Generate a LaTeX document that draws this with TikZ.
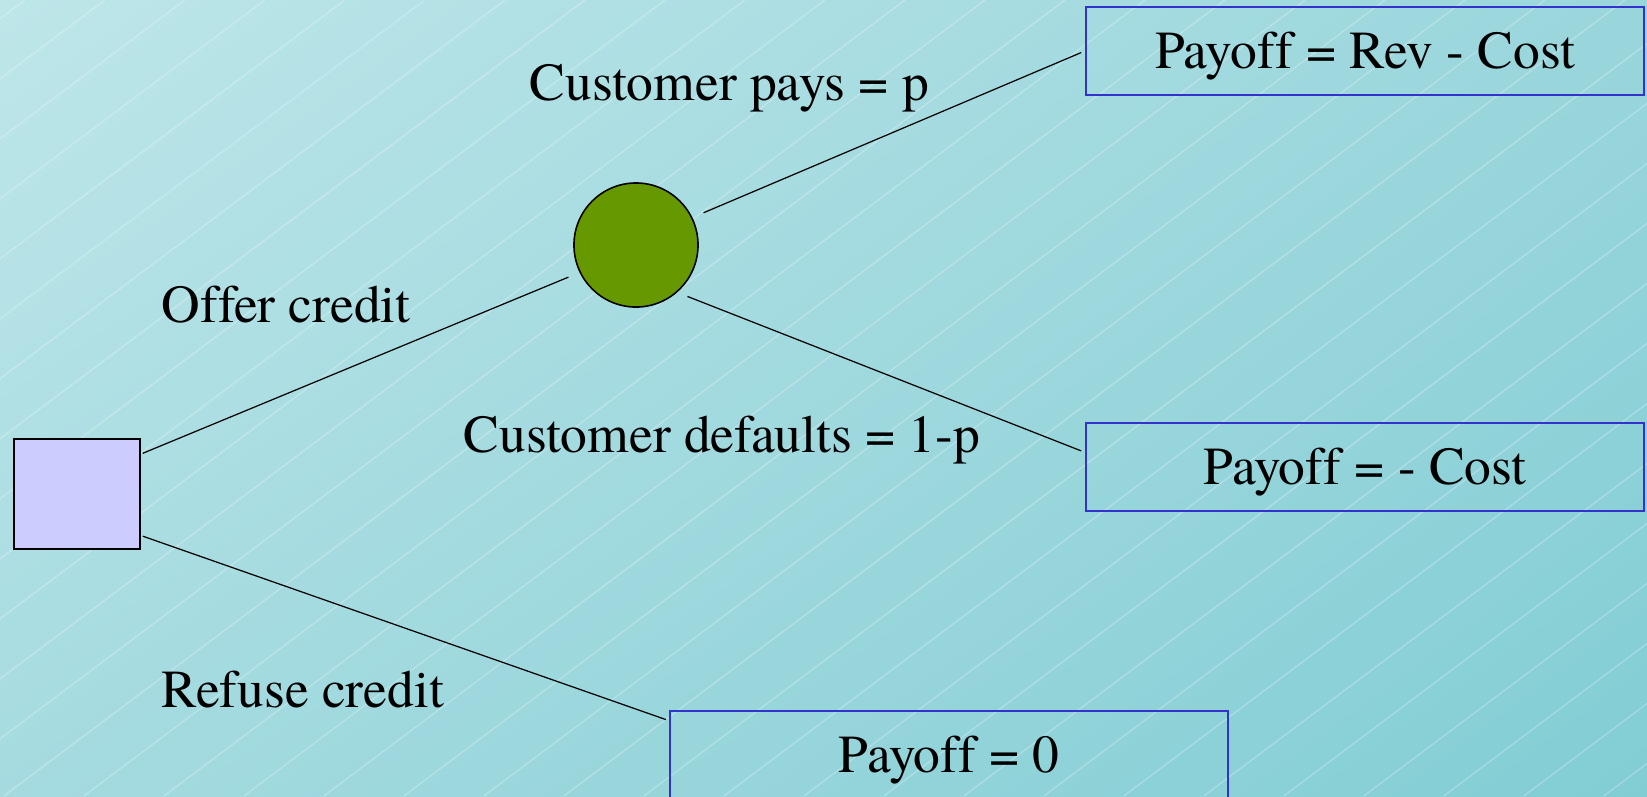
\documentclass[tikz,border=0pt]{standalone}
\usepackage{fontspec}
\setmainfont{texgyretermes}[Extension=.otf, UprightFont=*-regular, BoldFont=*-bold, ItalicFont=*-italic, BoldItalicFont=*-bolditalic, Ligatures=CommonOff]
\usetikzlibrary{shadings}
\definecolor{bgTL}{HTML}{BEE6E9}
\definecolor{bgTR}{HTML}{99D6DC}
\definecolor{bgBL}{HTML}{A5DBE0}
\definecolor{bgBR}{HTML}{82CDD4}
\definecolor{sqfill}{HTML}{CCCCFF}
\definecolor{chgreen}{HTML}{669900}
\definecolor{boxblue}{HTML}{3333CC}
\begin{document}
\begin{tikzpicture}[x=0.01cm,y=-0.01cm,
  every node/.style={font=\fontsize{15.2}{18}\selectfont, text=black},
  decision/.style={draw=black, line width=0.5pt, fill=sqfill, minimum width=1.26cm, minimum height=1.10cm, inner sep=0pt},
  chance/.style={circle, draw=black, line width=0.45pt, fill=chgreen, minimum size=1.24cm, inner sep=0pt},
  payoff/.style={draw=boxblue, line width=0.55pt, minimum width=5.58cm, minimum height=0.88cm, inner sep=0pt, text height=0.35cm, text depth=0pt},
  branch/.style={draw=black, line width=0.35pt},
  lbl/.style={anchor=base west, inner sep=0pt},
  diag/.style={draw=white, line width=0.3pt, opacity=0.3}
]
\useasboundingbox (0,0) rectangle (1647,796);
\clip (0,0) rectangle (1647,796);
\shade[upper left=bgTL, upper right=bgTR, lower left=bgBL, lower right=bgBR] (0,0) rectangle (1647,796);
\foreach \c in {25,105,...,2745} {
  \draw[diag] (\c,0) -- ++(-1061.3,796);
}
% nodes
\node[decision] (sq) at (77,494) {};
\node[chance] (ch) at (636,245) {};
\node[payoff] (p1) at (1365,51) {Payoff = Rev - Cost};
\node[payoff] (p2) at (1365,467) {Payoff = - Cost};
\node[payoff] (p3) at (949,755) {Payoff = 0};
% labels
\node[lbl] (l1) at (529,100) {Customer pays = p};
\node[lbl] (l2) at (161,322) {Offer credit};
\node[lbl] (l3) at (463,452) {Customer defaults = 1-p};
\node[lbl] (l4) at (161,707) {Refuse credit};
% connectors
\draw[branch, shorten <=0.02cm, shorten >=0.12cm] (sq.32.4) -- (ch.206.2);
\draw[branch, shorten <=0.02cm, shorten >=0.03cm] (sq.-33.7) -- (p3.173.66);
\draw[branch, shorten <=0.12cm, shorten >=0.04cm] (ch.26.2) -- (p1.180.47);
\draw[branch, shorten <=0.11cm, shorten >=0.04cm] (ch.-49.1) -- (p2.177.25);
\end{tikzpicture}
\end{document}
